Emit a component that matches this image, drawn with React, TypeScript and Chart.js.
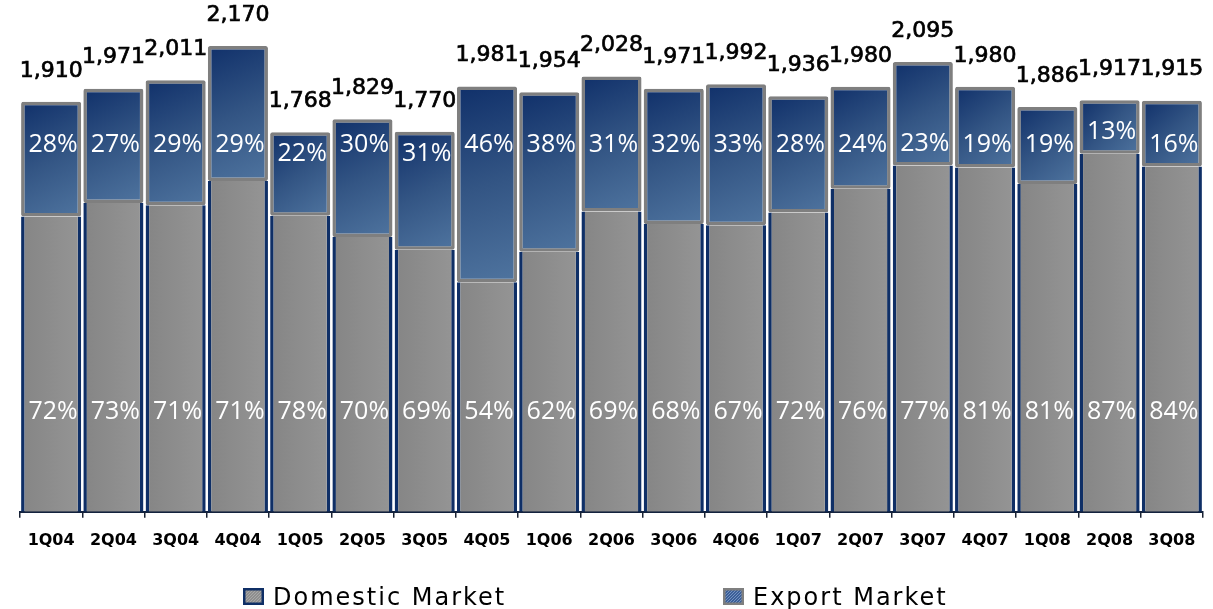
import { useEffect, useRef } from "react";
import { Chart, registerables } from "chart.js";

Chart.register(...registerables);

// ---- data ----
const categories = [
  "1Q04", "2Q04", "3Q04", "4Q04", "1Q05", "2Q05", "3Q05", "4Q05", "1Q06", "2Q06",
  "3Q06", "4Q06", "1Q07", "2Q07", "3Q07", "4Q07", "1Q08", "2Q08", "3Q08",
];
const totals = [
  1910, 1971, 2011, 2170, 1768, 1829, 1770, 1981, 1954, 2028,
  1971, 1992, 1936, 1980, 2095, 1980, 1886, 1917, 1915,
];
const domesticPct = [72, 73, 71, 71, 78, 70, 69, 54, 62, 69, 68, 67, 72, 76, 77, 81, 81, 87, 84];
const exportPct = [28, 27, 29, 29, 22, 30, 31, 46, 38, 31, 32, 33, 28, 24, 23, 19, 19, 13, 16];
const seriesNames = ["Domestic Market", "Export Market"];

const domesticValues = totals.map((t, i) => (t * domesticPct[i]) / 100);
const exportValues = totals.map((t, i) => t - domesticValues[i]);

// ---- styling constants ----
const Y_MAX = 2375;
const BAR_PCT = 0.965;
const DOMESTIC_LABEL_VALUE = 467;
const EXPORT_LABEL_VALUE = 1710;
const NAVY = "#0f2f66";
const GRAY_BORDER = "#7f7f7f";

function barHalf(chart: any) {
  const xs = chart.scales.x;
  return ((xs.width / categories.length) * BAR_PCT) / 2;
}

function exportFill(ctx: any) {
  const chart = ctx.chart;
  const xs = chart.scales?.x;
  const ys = chart.scales?.y;
  if (!chart.chartArea || !xs || !ys || ctx.dataIndex == null) return "#2f5288";
  const i = ctx.dataIndex;
  const cx = xs.getPixelForValue(i);
  const half = barHalf(chart);
  const top = ys.getPixelForValue(totals[i]);
  const bottom = ys.getPixelForValue(domesticValues[i]);
  const g = chart.ctx.createLinearGradient(cx - half, top, cx + half, bottom);
  g.addColorStop(0, "#10306a");
  g.addColorStop(0.5, "#335584");
  g.addColorStop(1, "#4f749f");
  return g;
}

function domesticFill(ctx: any) {
  const chart = ctx.chart;
  const xs = chart.scales?.x;
  if (!chart.chartArea || !xs || ctx.dataIndex == null) return "#8c8c8c";
  const cx = xs.getPixelForValue(ctx.dataIndex);
  const half = barHalf(chart);
  const g = chart.ctx.createLinearGradient(cx - half, 0, cx + half, 0);
  g.addColorStop(0, "#858585");
  g.addColorStop(1, "#959595");
  return g;
}

const labelsPlugin = {
  id: "barLabels",
  afterDatasetsDraw(chart: any) {
    const c = chart.ctx;
    const ys = chart.scales.y;
    const dm = chart.getDatasetMeta(0);
    const em = chart.getDatasetMeta(1);
    c.save();
    c.textAlign = "center";
    c.textBaseline = "middle";
    c.fillStyle = "#ffffff";
    c.font = '25px "Open Sans"';
    const domY = ys.getPixelForValue(DOMESTIC_LABEL_VALUE);
    dm.data.forEach((el: any, i: number) => {
      c.fillText(`${domesticPct[i]}%`, el.x + 2, domY);
    });
    em.data.forEach((el: any, i: number) => {
      const top = Math.min(el.y, el.base);
      const bottom = Math.max(el.y, el.base);
      let y = ys.getPixelForValue(EXPORT_LABEL_VALUE);
      y = Math.max(top + 22, Math.min(bottom - 22, y));
      c.fillText(`${exportPct[i]}%`, el.x + 2, y);
    });
    c.fillStyle = "#000000";
    c.strokeStyle = "#000000";
    c.lineWidth = 0.7;
    c.font = '22px "DejaVu Sans"';
    em.data.forEach((el: any, i: number) => {
      const txt = totals[i].toLocaleString("en-US");
      c.fillText(txt, el.x, el.y - 31);
      c.strokeText(txt, el.x, el.y - 31);
    });
    c.restore();
  },
};

function hatch(c: CanvasRenderingContext2D, x: number, y: number, w: number, h: number, color: string) {
  c.save();
  c.beginPath();
  c.rect(x, y, w, h);
  c.clip();
  c.strokeStyle = color;
  c.lineWidth = 1;
  for (let k = -h; k < w + h; k += 3) {
    c.beginPath();
    c.moveTo(x + k, y + h);
    c.lineTo(x + k + h, y);
    c.stroke();
  }
  c.restore();
}

const legendPlugin = {
  id: "customLegend",
  afterDraw(chart: any) {
    const c: CanvasRenderingContext2D = chart.ctx;
    const items = [
      { x: 243, fill: "#8e8e8e", stripe: "#a8a8a8", border: NAVY, text: chart.data.datasets[0].label },
      { x: 723, fill: "#3b5f98", stripe: "#7592c0", border: GRAY_BORDER, text: chart.data.datasets[1].label },
    ];
    const boxY = 588;
    const boxW = 21;
    const boxH = 17;
    c.save();
    items.forEach((it) => {
      c.fillStyle = it.fill;
      c.fillRect(it.x, boxY, boxW, boxH);
      hatch(c, it.x, boxY, boxW, boxH, it.stripe);
      c.lineWidth = 2.5;
      c.strokeStyle = it.border;
      c.strokeRect(it.x + 1.25, boxY + 1.25, boxW - 2.5, boxH - 2.5);
      c.fillStyle = "#000";
      c.font = '24px "DejaVu Sans"';
      (c as any).letterSpacing = "2px";
      c.textAlign = "left";
      c.textBaseline = "alphabetic";
      c.fillText(it.text, it.x + 30, 605);
      (c as any).letterSpacing = "0px";
    });
    c.restore();
  },
};

export default function App() {
  const ref = useRef<HTMLCanvasElement | null>(null);

  useEffect(() => {
    if (!ref.current) return;
    const chart = new Chart(ref.current, {
      type: "bar",
      data: {
        labels: categories,
        datasets: [
          {
            label: seriesNames[0],
            data: domesticValues,
            backgroundColor: domesticFill,
            borderColor: NAVY,
            borderWidth: { left: 3.5, right: 3.5, top: 0, bottom: 0 },
            borderSkipped: false,
            barPercentage: BAR_PCT,
            categoryPercentage: 1,
          },
          {
            label: seriesNames[1],
            data: exportValues,
            backgroundColor: exportFill,
            borderColor: GRAY_BORDER,
            borderWidth: 3.5,
            borderRadius: 2,
            borderSkipped: false,
            barPercentage: BAR_PCT,
            categoryPercentage: 1,
          },
        ],
      },
      options: {
        animation: false,
        responsive: true,
        maintainAspectRatio: false,
        layout: { padding: { left: 20, right: 10, top: 2, bottom: 46 } },
        plugins: {
          legend: { display: false },
          tooltip: { enabled: false },
        },
        scales: {
          x: {
            stacked: true,
            offset: true,
            grid: {
              display: true,
              drawOnChartArea: false,
              drawTicks: true,
              tickLength: 6,
              color: "#1a2233",
              lineWidth: 1.5,
              offset: true,
            },
            border: { display: true, color: "#13223d", width: 2 },
            ticks: {
              color: "#000",
              font: { family: "DejaVu Sans", weight: "bold", size: 16 },
              padding: 13,
              maxRotation: 0,
              autoSkip: false,
            },
          },
          y: {
            stacked: true,
            display: false,
            min: 0,
            max: Y_MAX,
          },
        },
      },
      plugins: [labelsPlugin, legendPlugin],
    });
    return () => chart.destroy();
  }, []);

  return (
    <div style={{ position: "absolute", left: 0, top: 0, width: 1213, height: 609, background: "#fff" }}>
      <canvas ref={ref} />
    </div>
  );
}
